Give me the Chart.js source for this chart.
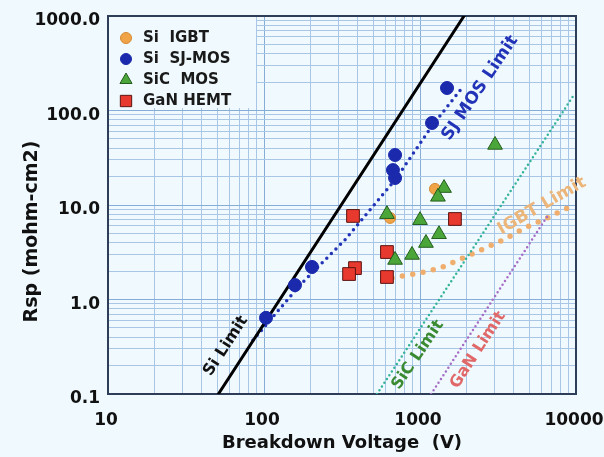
<!DOCTYPE html>
<html>
<head>
<meta charset="utf-8">
<script src="https://cdn.jsdelivr.net/npm/chart.js@4"></script>
<style>
  html, body { margin: 0; padding: 0; background: #f0fafe; }
  canvas { display: block; }
</style>
</head>
<body>
<canvas id="graphique" width="604" height="457"></canvas>
<script>
// Composants mesurés : tension de claquage (V) et Rsp (mohm-cm2)
const siIgbtV = [643, 1247];
const siIgbtR = [7.3, 14.8];

const sjMosV = [103, 158, 203, 671, 692, 692, 1194, 1490];
const sjMosR = [0.64, 1.42, 2.21, 23.4, 19.3, 33.8, 73.8, 173];

const sicMosV = [614, 1000, 1426, 1303, 1324, 1092, 889, 692, 3027];
const sicMosR = [8.0, 6.9, 15.1, 12.2, 4.9, 3.96, 2.96, 2.62, 43.2];

const ganV = [372, 1675, 614, 383, 351, 614];
const ganR = [7.66, 7.11, 3.18, 2.15, 1.86, 1.73];

// Limites théoriques
const siLimitV = [51, 1915];
const siLimitR = [0.1, 1000];
const sjLimitV = [85, 170, 330, 692, 1194, 1858];
const sjLimitR = [0.37, 1.42, 4.27, 18.4, 68.5, 173];
const sicLimitV = [530, 9700];
const sicLimitR = [0.1, 146];
const ganLimitV = [1178, 6620];
const ganLimitR = [0.1, 7.8];
const igbtLimitV = [662, 1000, 1343, 1888, 2535, 3404, 4710, 6518, 10000];
const igbtLimitR = [1.69, 1.91, 2.15, 2.75, 3.42, 4.26, 5.72, 7.28, 10.3];

// Etiquettes des limites (ancrées en coordonnées de données)
const limitNames = ['Si Limit', 'SJ MOS Limit', 'SiC Limit', 'GaN Limit', 'IGBT Limit'];
const limitNameV = [57, 2427, 970, 2355, 6050];
const limitNameR = [0.322, 173, 0.259, 0.292, 9.75];

// Graduations
const xTicks = [10, 100, 1000, 10000];
const yTicks = [0.1, 1, 10, 100, 1000];

const fond = '#f0fafe';
const police = '"DejaVu Sans", sans-serif';

function pts(vs, rs) {
  return vs.map((v, i) => ({x: v, y: rs[i]}));
}
function isDecade(v) {
  const l = Math.log10(v);
  return Math.abs(l - Math.round(l)) < 1e-9;
}
function grille(decades) {
  const g = [];
  for (let i = 0; i < decades.length - 1; i++) {
    for (let m = 1; m < 10; m++) g.push(m * decades[i]);
  }
  g.push(decades[decades.length - 1]);
  return g;
}

// styles des étiquettes de limites
const limitStyles = [
  {color: '#111111', size: 16, angle: 57},
  {color: '#2233b8', size: 17, angle: 56},
  {color: '#3a8a32', size: 16, angle: 56},
  {color: '#e06868', size: 16, angle: 57},
  {color: '#ecb57a', size: 17, angle: 30}
];

function marqueur(ctx, style, x, y, r, bg, bd) {
  ctx.beginPath();
  if (style === 'circle') {
    ctx.arc(x, y, r, 0, Math.PI * 2);
  } else if (style === 'triangle') {
    ctx.moveTo(x, y - r);
    ctx.lineTo(x + r * 0.866, y + r * 0.5);
    ctx.lineTo(x - r * 0.866, y + r * 0.5);
    ctx.closePath();
  } else {
    const s = r * Math.SQRT1_2;
    ctx.rect(x - s, y - s, 2 * s, 2 * s);
  }
  ctx.fillStyle = bg;
  ctx.fill();
  ctx.lineWidth = 1;
  ctx.strokeStyle = bd;
  ctx.stroke();
}

const cadre = {
  id: 'cadre',
  beforeDraw(chart) {
    const ctx = chart.ctx;
    ctx.save();
    ctx.fillStyle = fond;
    ctx.fillRect(0, 0, chart.width, chart.height);
    ctx.restore();
  },
  beforeDatasetsDraw(chart) {
    const ctx = chart.ctx;
    const a = chart.chartArea;
    ctx.save();
    // fond de la légende
    ctx.fillStyle = fond;
    ctx.fillRect(a.left + 1, a.top + 1, 147, 91);
    // cadre du graphique
    ctx.strokeStyle = '#2f3e58';
    ctx.lineWidth = 2;
    ctx.strokeRect(a.left, a.top, a.right - a.left, a.bottom - a.top);
    // légende
    ctx.font = 'bold 15px ' + police;
    ctx.textBaseline = 'middle';
    ctx.textAlign = 'left';
    let row = 0;
    chart.data.datasets.forEach((ds) => {
      if (!ds.legende) return;
      const y = a.top + 22 + row * 21;
      marqueur(ctx, ds.pointStyle, a.left + 18, y, ds.legende, ds.backgroundColor, ds.borderColor);
      ctx.fillStyle = '#1a1a1a';
      ctx.fillText(ds.label, a.left + 35, y);
      row++;
    });
    ctx.restore();
  },
  afterDatasetsDraw(chart) {
    const ctx = chart.ctx;
    limitNames.forEach((t, i) => {
      const st = limitStyles[i];
      const x = chart.scales.x.getPixelForValue(limitNameV[i]);
      const y = chart.scales.y.getPixelForValue(limitNameR[i]);
      ctx.save();
      ctx.translate(x, y);
      ctx.rotate(-st.angle * Math.PI / 180);
      ctx.font = 'bold ' + st.size + 'px ' + police;
      ctx.fillStyle = st.color;
      ctx.textAlign = 'center';
      ctx.textBaseline = 'middle';
      ctx.fillText(t, 0, 0);
      ctx.restore();
    });
  }
};

function ligne(label, data, color, width, gap) {
  return {
    label: label,
    data: data,
    showLine: true,
    borderColor: color,
    borderWidth: width,
    borderDash: gap ? [0, gap] : [],
    borderCapStyle: 'round',
    pointRadius: 0,
    pointHoverRadius: 0,
    fill: false,
    order: 10
  };
}

const tickFont = {family: police, size: 17, weight: 'bold', lineHeight: 1.2};

new Chart(document.getElementById('graphique').getContext('2d'), {
  type: 'scatter',
  data: {
    datasets: [
      {
        label: 'Si  IGBT', data: pts(siIgbtV, siIgbtR),
        pointStyle: 'circle', pointRadius: 5.5, backgroundColor: '#f0a447', borderColor: '#d58a34', borderWidth: 1,
        legende: 5.5, order: 1
      },
      {
        label: 'Si  SJ-MOS', data: pts(sjMosV, sjMosR),
        pointStyle: 'circle', pointRadius: 6.5, backgroundColor: '#1b29ad', borderColor: '#1b29ad', borderWidth: 1,
        legende: 5.5, order: 2
      },
      {
        label: 'SiC  MOS', data: pts(sicMosV, sicMosR),
        pointStyle: 'triangle', pointRadius: 8.5, backgroundColor: '#4ba63a', borderColor: '#245d1c', borderWidth: 1,
        legende: 7, order: 0
      },
      {
        label: 'GaN HEMT', data: pts(ganV, ganR),
        pointStyle: 'rect', pointRadius: 9, backgroundColor: '#e8392f', borderColor: '#5a1410', borderWidth: 1,
        legende: 8, order: 3
      },
      ligne('Si Limit', pts(siLimitV, siLimitR), '#000000', 3, 0),
      ligne('SJ MOS Limit', pts(sjLimitV, sjLimitR), '#2233b8', 3.5, 6.5),
      ligne('SiC Limit', pts(sicLimitV, sicLimitR), '#35b39a', 2.5, 4.5),
      ligne('GaN Limit', pts(ganLimitV, ganLimitR), '#a66cc6', 2.5, 4.5),
      ligne('IGBT Limit', pts(igbtLimitV, igbtLimitR), '#efae6e', 5.5, 10.5)
    ]
  },
  options: {
    responsive: false,
    animation: false,
    layout: { padding: {top: 16, right: 28, left: 0, bottom: 0} },
    plugins: {
      legend: { display: false },
      tooltip: { enabled: false }
    },
    scales: {
      x: {
        type: 'logarithmic', min: 10, max: 10000,
        afterBuildTicks: (s) => { s.ticks = grille(xTicks).map(v => ({value: v, major: isDecade(v)})); },
        afterFit: (s) => { s.height = 63; s.paddingLeft = 0; s.paddingRight = 0; },
        grid: { color: (c) => isDecade(c.tick.value) ? '#86acd8' : '#a9c6e6', lineWidth: 1, drawTicks: false },
        border: { display: false },
        ticks: {
          autoSkip: false, maxRotation: 0, minRotation: 0, padding: 16, labelOffset: -2,
          font: tickFont, color: '#111111',
          callback: (v) => xTicks.includes(v) ? String(v) : ''
        },
        title: {
          display: true, text: 'Breakdown Voltage  (V)', color: '#111111',
          font: {family: police, size: 18, weight: 'bold', lineHeight: 1.2},
          padding: {top: 0, bottom: 3}
        }
      },
      y: {
        type: 'logarithmic', min: 0.1, max: 1000,
        afterBuildTicks: (s) => { s.ticks = grille(yTicks).map(v => ({value: v, major: isDecade(v)})); },
        afterFit: (s) => { s.width = 108; s.paddingTop = 0; s.paddingBottom = 0; },
        grid: { color: (c) => isDecade(c.tick.value) ? '#86acd8' : '#a9c6e6', lineWidth: 1, drawTicks: false },
        border: { display: false },
        ticks: {
          autoSkip: false, padding: 8, labelOffset: 5, font: tickFont, color: '#111111',
          callback: (v) => isDecade(v) ? (v >= 1 ? v.toFixed(1) : String(v)) : ''
        },
        title: {
          display: true, text: 'Rsp (mohm-cm2)        ', color: '#111111',
          font: {family: police, size: 19, weight: 'bold', lineHeight: 1.2},
          padding: {top: 21, bottom: 0}
        }
      }
    }
  },
  plugins: [cadre]
});
</script>
</body>
</html>
